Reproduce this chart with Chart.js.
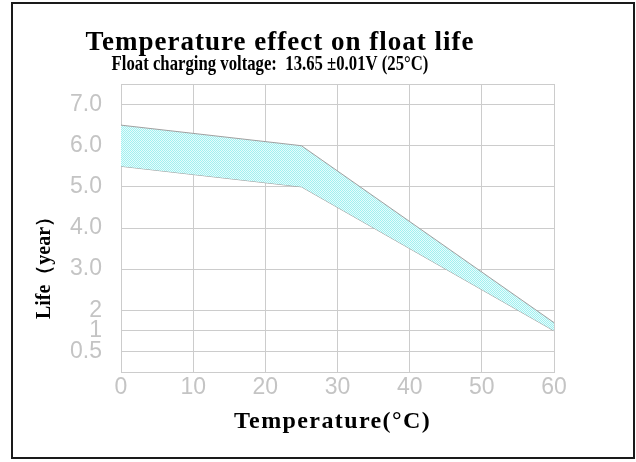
<!DOCTYPE html>
<html>
<head>
<meta charset="utf-8">
<title>Temperature effect on float life</title>
<script src="https://cdn.jsdelivr.net/npm/chart.js@4.4.1/dist/chart.umd.min.js"></script>
<style>
    html, body { margin: 0; padding: 0; background: #fff; }
</style>
</head>
<body>
<canvas id="lifeChart" width="636" height="462"></canvas>
<script>
// 数据
const temperatures = [0, 25, 60];
const lifeUpper = [6.5, 6.0, 1.4];
const lifeLower = [5.5, 5.0, 1.0];
const tempTicks = [0, 10, 20, 30, 40, 50, 60];
const lifeTicks = [0.5, 1, 2, 3, 4, 5, 6, 7];
const lifeTickLabels = ['0.5', '1', '2', '3.0', '4.0', '5.0', '6.0', '7.0'];

const titleText = 'Temperature effect on float life';
const subtitleText = 'Float charging voltage:  13.65 ±0.01V (25°C)';
const xTitleText = 'Temperature(°C)';
const yTitleText = 'Life（year）';

// the life axis is not linear: below 2 years it is stretched
const lifeBreaks = [0, 1, 2, 7.5];
const axisBreaks = [0, 2, 3, 14];

function lifeToAxis(v) {
    for (let i = 1; i < lifeBreaks.length; i++) {
        if (v <= lifeBreaks[i] || i === lifeBreaks.length - 1) {
            const t = (v - lifeBreaks[i - 1]) / (lifeBreaks[i] - lifeBreaks[i - 1]);
            return axisBreaks[i - 1] + t * (axisBreaks[i] - axisBreaks[i - 1]);
        }
    }
}

const ctx = document.getElementById('lifeChart');

// 网格填充图案 (cyan checker like the original)
function makeHatch() {
    const c = document.createElement('canvas');
    c.width = 2; c.height = 2;
    const g = c.getContext('2d');
    g.fillStyle = '#e6fcfc';
    g.fillRect(0, 0, 2, 2);
    g.fillStyle = '#a2f0f0';
    g.fillRect(0, 0, 1, 1);
    g.fillRect(1, 1, 1, 1);
    return ctx.getContext('2d').createPattern(c, 'repeat');
}

// titles are drawn here so they can get the spaced / condensed look
const framePlugin = {
    id: 'frame',
    beforeDraw(chart) {
        const c = chart.ctx;
        c.save();
        c.fillStyle = '#fff';
        c.fillRect(0, 0, chart.width, chart.height);
        c.restore();
    },
    afterDraw(chart) {
        const c = chart.ctx;
        const area = chart.chartArea;
        c.save();
        c.strokeStyle = '#1a1a1a';
        c.lineWidth = 2;
        c.strokeRect(12, 3, 622, 455);

        c.fillStyle = '#000';
        c.textAlign = 'center';
        c.textBaseline = 'alphabetic';

        // main title
        c.font = 'bold 27px "Liberation Serif"';
        c.letterSpacing = '1px';
        c.fillText(titleText, 280, 50);

        // subtitle, condensed
        c.save();
        c.letterSpacing = '0px';
        c.translate(270, 70);
        c.scale(0.76, 1);
        c.font = 'bold 22px "Liberation Serif"';
        c.fillText(subtitleText, 0, 0);
        c.restore();

        // x axis title
        c.font = 'bold 24px "Liberation Serif"';
        c.letterSpacing = '1.4px';
        c.fillText(xTitleText, (area.left + area.right) / 2 - 5, 428);

        // y axis title
        c.letterSpacing = '0px';
        c.translate(45, area.bottom - 109);
        c.rotate(-Math.PI / 2);
        c.font = 'bold 20px "Liberation Serif"';
        c.textBaseline = 'middle';
        c.fillText(yTitleText, 0, 0);
        c.restore();
    }
};

const gridColor = '#cccccc';
const tickColor = '#c4c4c4';
const tickFont = { family: '"Liberation Sans Narrow", "Liberation Sans"', size: 23 };
const hatch = makeHatch();

new Chart(ctx, {
    type: 'line',
    data: {
        datasets: [
            {
                label: 'upper',
                data: temperatures.map((t, i) => ({ x: t, y: lifeToAxis(lifeUpper[i]) })),
                borderColor: '#a0a0a0',
                borderWidth: 1,
                backgroundColor: hatch,
                fill: '+1',
                pointRadius: 0,
                tension: 0
            },
            {
                label: 'lower',
                data: temperatures.map((t, i) => ({ x: t, y: lifeToAxis(lifeLower[i]) })),
                borderColor: '#a0a0a0',
                borderWidth: 1,
                fill: false,
                pointRadius: 0,
                tension: 0
            }
        ]
    },
    options: {
        responsive: false,
        animation: false,
        layout: { padding: { left: 0, right: 82, top: 84, bottom: 0 } },
        plugins: {
            legend: { display: false },
            tooltip: { enabled: false }
        },
        scales: {
            x: {
                type: 'linear',
                min: 0,
                max: 60,
                afterBuildTicks: (scale) => { scale.ticks = tempTicks.map(v => ({ value: v })); },
                afterFit: (scale) => { scale.height = 90; },
                grid: { color: gridColor, drawTicks: false },
                border: { color: gridColor },
                ticks: { color: tickColor, font: tickFont, padding: 2, maxRotation: 0 }
            },
            y: {
                type: 'linear',
                min: 0,
                max: lifeToAxis(7.5),
                afterBuildTicks: (scale) => {
                    scale.ticks = [0, ...lifeTicks, 7.5].map(v => ({ value: lifeToAxis(v) }));
                },
                afterFit: (scale) => { scale.width = 121; },
                grid: { color: gridColor, drawTicks: false },
                border: { color: gridColor },
                ticks: {
                    color: tickColor,
                    font: tickFont,
                    padding: 19,
                    autoSkip: false,
                    callback: (value, index) => lifeTickLabels[index - 1] ?? ''
                }
            }
        }
    },
    plugins: [framePlugin]
});
</script>
</body>
</html>
